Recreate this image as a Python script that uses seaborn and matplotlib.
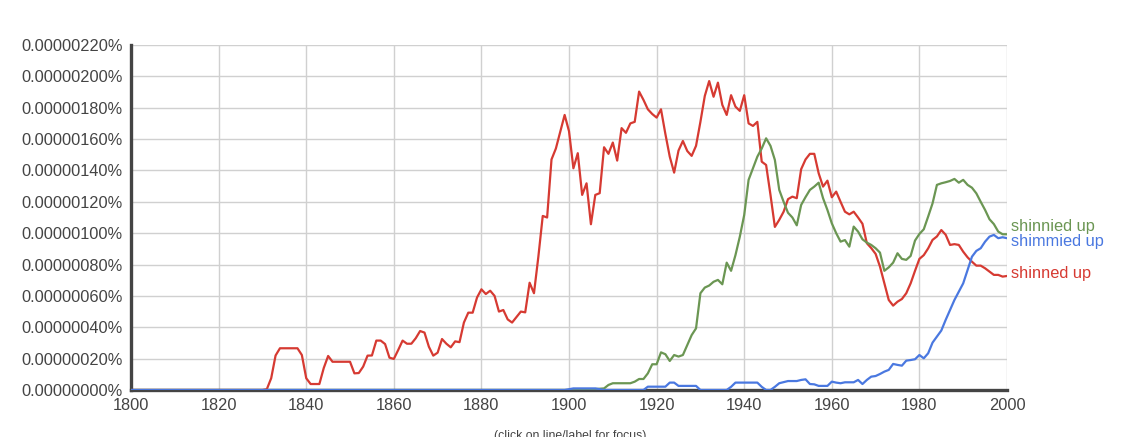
import pandas as pd
import numpy as np
from matplotlib import pyplot as plt
import seaborn as sns

# values in units of 1e-8 percent (tick "0.00000020%" == 20)
years = list(range(1800, 2001))

shinned_up = [
    0, 0, 0, 0, 0, 0, 0, 0, 0, 0,                                   # 1800
    0, 0, 0, 0, 0, 0, 0, 0, 0, 0,                                   # 1810
    0, 0, 0, 0, 0, 0, 0, 0, 0, 0,                                   # 1820
    0, 0.5, 7.5, 22, 26.6, 26.6, 26.6, 26.6, 26.6, 22.3,            # 1830
    7.5, 3.8, 3.8, 3.8, 14, 21.7, 18, 18, 18, 18,                   # 1840
    18, 10.6, 10.8, 14.9, 21.9, 22, 31.5, 31.5, 29.3, 20.6,         # 1850
    19.8, 25.5, 31.5, 29.5, 29.5, 33, 37.6, 36.6, 27.6, 21.9,       # 1860
    23.8, 32.5, 29.5, 27.2, 31, 30.5, 43, 49.3, 49.3, 59,           # 1870
    64.2, 61.2, 63.3, 60, 50, 51, 45, 43, 46.5, 50,                 # 1880
    49.5, 68.4, 61.7, 85, 111, 110, 147, 154, 164.7, 175.4,         # 1890
    165, 141.4, 151, 124.4, 131.8, 105.7, 124.4, 125.5, 154.8, 150.6,   # 1900
    157.8, 146.3, 167, 164, 170, 171, 190.3, 185, 179, 176,         # 1910
    173.7, 179, 163.3, 148.8, 138.6, 152.7, 158.8, 152.4, 149.3, 155.7, # 1920
    171, 187.5, 197, 187, 196, 181.8, 175.4, 188, 180.7, 178,       # 1930
    188, 170, 168.4, 171, 145.6, 143.5, 124.4, 104, 108.5, 113.7,   # 1940
    121.7, 123.3, 122.3, 140.8, 147, 150.6, 150.6, 138.2, 129.7, 133.5, # 1950
    122.9, 126.5, 120, 113.7, 112, 113.7, 110, 106, 93.6, 90.5,     # 1960
    86.8, 78.7, 68, 57.4, 53.8, 56.3, 58, 61.7, 68, 76,             # 1970
    83.6, 86, 90.3, 95.7, 97.9, 102, 99, 92.5, 93, 92.5,            # 1980
    88.2, 84.6, 81.8, 79.3, 79.3, 77.6, 75.5, 73.4, 73.4, 72.3,     # 1990
    72.7,                                                           # 2000
]

shinnied_up = [
    0, 0, 0, 0, 0, 0, 0, 0, 0, 0,
    0, 0, 0, 0, 0, 0, 0, 0, 0, 0,
    0, 0, 0, 0, 0, 0, 0, 0, 0, 0,
    0, 0, 0, 0, 0, 0, 0, 0, 0, 0,
    0, 0, 0, 0, 0, 0, 0, 0, 0, 0,
    0, 0, 0, 0, 0, 0, 0, 0, 0, 0,
    0, 0, 0, 0, 0, 0, 0, 0, 0, 0,
    0, 0, 0, 0, 0, 0, 0, 0, 0, 0,
    0, 0, 0, 0, 0, 0, 0, 0, 0, 0,
    0, 0, 0, 0, 0, 0, 0, 0, 0, 0,                                   # 1890
    0, 0, 0, 0, 0, 0, 0.6, 0.8, 1, 3.2,                             # 1900
    4.3, 4.3, 4.3, 4.3, 4.3, 5.3, 7, 7, 10.6, 16.4,                 # 1910
    16.4, 24, 22.8, 18.5, 22.3, 21.3, 22.3, 28.7, 35, 39.3,         # 1920
    61.7, 65.3, 66.6, 69, 70.2, 67.4, 81.2, 76, 86, 97.8,           # 1930
    111.6, 134, 141.4, 148.8, 154, 160.5, 155.7, 146.7, 127.6, 120, # 1940
    113, 110, 105, 118, 123, 127.6, 129.7, 132.2, 122.3, 114.8,     # 1950
    106.3, 100, 94.6, 95.6, 91.4, 104.2, 101, 96.1, 94, 92.5,       # 1960
    90.4, 87.6, 76, 78.2, 81.2, 87.2, 83.6, 83, 85.5, 95.3,         # 1970
    99.5, 102.5, 110.6, 119, 130.8, 131.8, 132.5, 133.3, 134.6, 132.2,  # 1980
    134, 130.8, 129, 125.4, 120, 114.8, 108.9, 105.8, 101, 99.3,    # 1990
    99.3,
]

shimmied_up = [
    0, 0, 0, 0, 0, 0, 0, 0, 0, 0,
    0, 0, 0, 0, 0, 0, 0, 0, 0, 0,
    0, 0, 0, 0, 0, 0, 0, 0, 0, 0,
    0, 0, 0, 0, 0, 0, 0, 0, 0, 0,
    0, 0, 0, 0, 0, 0, 0, 0, 0, 0,
    0, 0, 0, 0, 0, 0, 0, 0, 0, 0,
    0, 0, 0, 0, 0, 0, 0, 0, 0, 0,
    0, 0, 0, 0, 0, 0, 0, 0, 0, 0,
    0, 0, 0, 0, 0, 0, 0, 0, 0, 0,
    0, 0, 0, 0, 0, 0, 0, 0, 0, 0,                                   # 1890
    0.5, 1, 1, 1, 1, 1, 1, 0.5, 0, 0,                               # 1900
    0, 0, 0, 0, 0, 0, 0, 0, 2.1, 2.1,                               # 1910
    2.1, 2.1, 2.1, 4.7, 4.7, 2.6, 2.6, 2.6, 2.6, 2.6,               # 1920
    0, 0, 0, 0, 0, 0, 0, 2, 4.7, 4.7,                               # 1930
    4.7, 4.7, 4.7, 4.7, 2, 0, 0, 2, 4.3, 5,                         # 1940
    5.7, 5.7, 5.7, 6.4, 6.8, 3.8, 3.6, 2.6, 2.6, 2.6,               # 1950
    5.3, 4.7, 4.3, 4.9, 4.9, 4.9, 6.4, 3.8, 6.4, 8.5,               # 1960
    8.9, 10.2, 11.7, 12.8, 16.6, 16, 15.5, 18.7, 19.1, 19.6,        # 1970
    22.3, 20.2, 23.4, 30.2, 34, 37.9, 44.7, 51, 57.4, 62.7,         # 1980
    68, 76.6, 85, 88.7, 90.4, 94.6, 97.8, 98.9, 96.8, 97.4,         # 1990
    96.8,
]

phrases = ["shinned up", "shinnied up", "shimmied up"]
colors = {"shinned up": "#d63a32", "shinnied up": "#6b9653", "shimmied up": "#4a78e0"}
label_y = {"shinnied up": 104.5, "shimmied up": 95, "shinned up": 74.5}

df = pd.DataFrame({
    "year": years * 3,
    "value": shinned_up + shinnied_up + shimmied_up,
    "phrase": np.repeat(phrases, len(years)),
})

sns.set_style("white")
plt.rcParams['font.family'] = ['Liberation Sans', 'DejaVu Sans']

fig = plt.figure(figsize=(11.21, 4.37), dpi=100)
ax = fig.add_axes([0.1169, 0.1076, 0.7814, 0.7894])

sns.lineplot(data=df, x="year", y="value", hue="phrase", palette=colors,
             linewidth=1.6, legend=False, ax=ax, zorder=3)

ax.set_xlim(1800, 2000)
ax.set_ylim(0, 220)
ax.set_xticks(range(1800, 2001, 20))
yt = list(range(0, 221, 20))
ax.set_yticks(yt)
ax.set_yticklabels([f"{v * 1e-8:.8f}%" for v in yt])
ax.set_xlabel("")
ax.set_ylabel("")

ax.grid(True, color="#d0d0d0", linewidth=1)
ax.set_axisbelow(True)
for s in ["top", "right"]:
    ax.spines[s].set_visible(False)
for s in ["left", "bottom"]:
    ax.spines[s].set_color("#444444")
    ax.spines[s].set_linewidth(2.4)
ax.tick_params(axis="both", colors="#444444", labelsize=11.8, length=4, width=1.6,
               direction="out", pad=2)
ax.tick_params(axis="x", pad=2)

for p in phrases:
    ax.text(2001, label_y[p], p, color=colors[p], fontsize=11.8, va="center",
            ha="left", clip_on=False)

fig.text(570 / 1121, 1 - 430 / 437, "(click on line/label for focus)", fontsize=8.8,
         color="#444444", ha="center", va="top")

fig.savefig("out.png", dpi=100)
